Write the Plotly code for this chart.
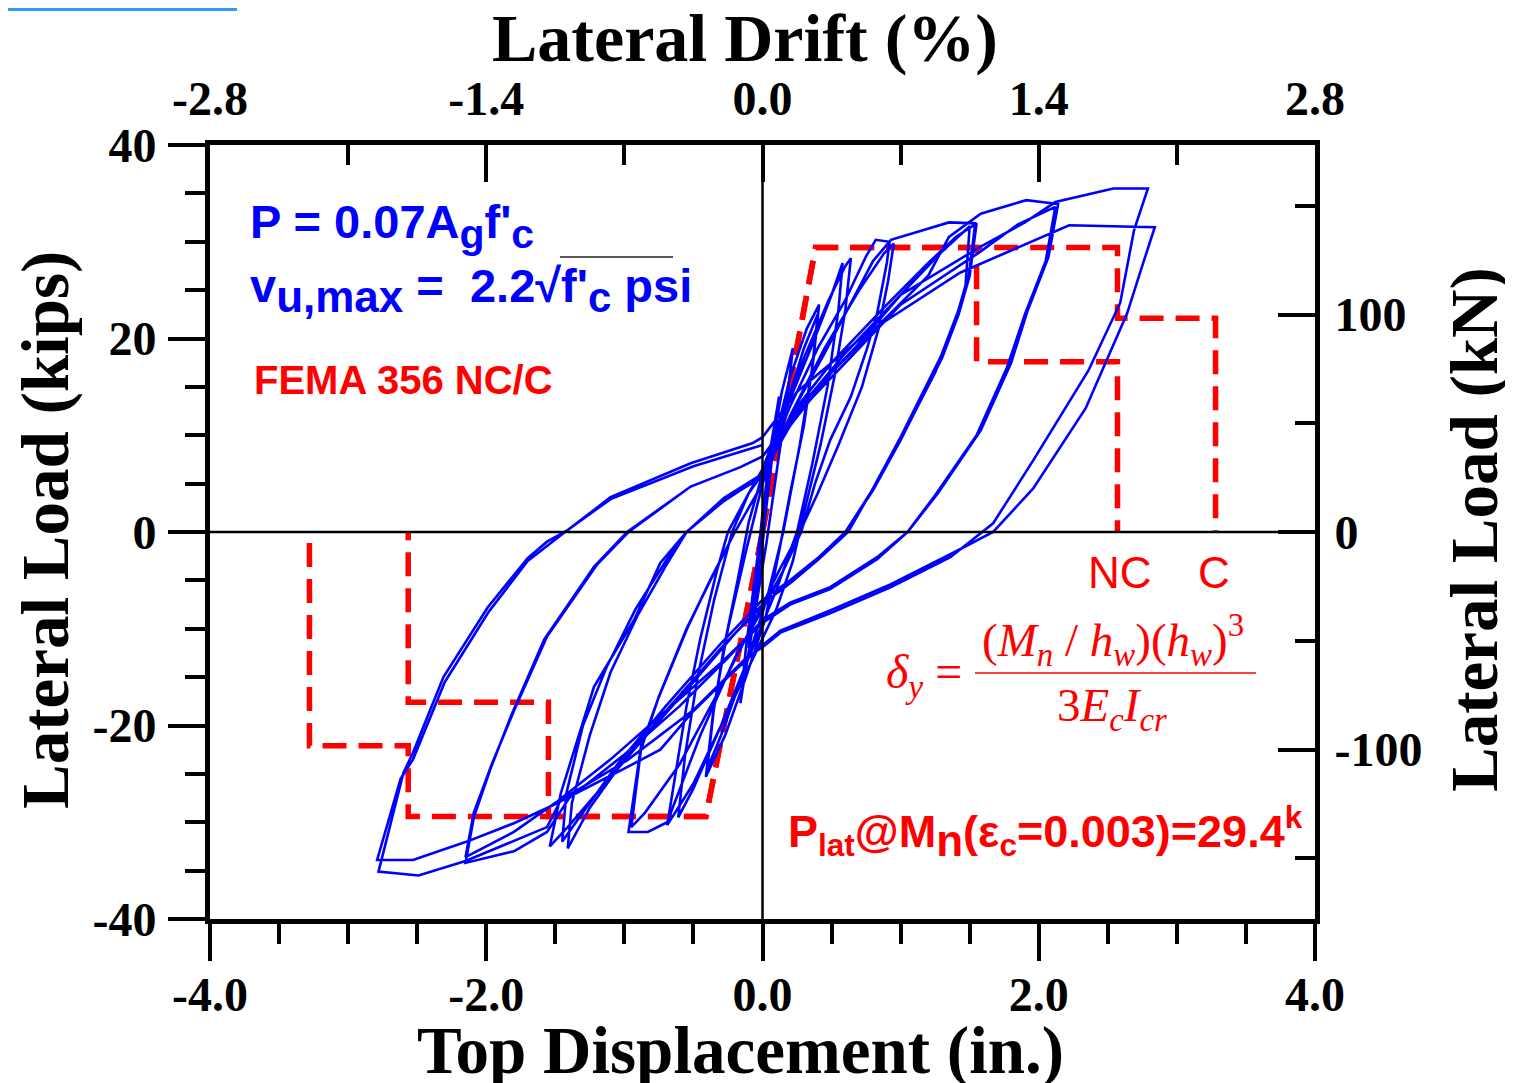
import plotly.graph_objects as go

# ---------------- data: hysteresis history (top displacement in., lateral load kips) ----------------
disp_c01 = [0.0, 0.03, 0.06, 0.045, 0.02, -0.01, -0.05, -0.035, -0.01, 0.0]
load_c01 = [0.0, 5, 9, 6, 2, -3, -8, -5, -1, 1.5]

disp_c02 = [0.0, 0.05, 0.12, 0.09, 0.04, -0.02, -0.07, -0.1, -0.07, -0.03, 0.0]
load_c02 = [1.5, 8, 14, 10, 4, -3, -9, -12, -8, -2.5, 2]

disp_c03 = [0.0, 0.06, 0.14, 0.22, 0.18, 0.1, 0.03, -0.05, -0.12, -0.16, -0.12, -0.06, 0.0]
load_c03 = [2, 8, 14.5, 19, 14, 6, -1, -8, -14, -17.7, -12, -5, 1.5]

disp_c04 = [0.0, 0.08, 0.2, 0.32, 0.41, 0.37, 0.3, 0.2, 0.12, 0.02, -0.12, -0.27, -0.41, -0.36, -0.28, -0.18, -0.1, 0.0]
load_c04 = [1.5, 9, 16, 21, 23.5, 18, 11, 4, -2, -9, -15, -21, -25.3, -19, -12, -5, 1, 6]

disp_c05 = [0.0, 0.15, 0.3, 0.4, 0.36, 0.27, 0.15, 0.03, -0.15, -0.3, -0.4, -0.35, -0.25, -0.12, 0.0]
load_c05 = [6, 12, 19, 22.5, 17, 9, 0, -7, -15, -21, -24.5, -18, -10, -2, 5]

disp_c06 = [0.0, 0.15, 0.3, 0.48, 0.6, 0.64, 0.6, 0.52, 0.42, 0.3, 0.22, 0.1, -0.1, -0.3, -0.5, -0.69,
            -0.63, -0.55, -0.45, -0.33, -0.25, -0.1, 0.0]
load_c06 = [5, 12, 18, 24, 27.5, 28.3, 23, 16, 9, 2, -3, -8, -14, -20, -26, -30.3,
            -25, -18, -11, -4, 0, 4, 6.5]

disp_c07 = [0.0, 0.15, 0.35, 0.5, 0.58, 0.55, 0.47, 0.36, 0.25, 0.1, -0.1, -0.3, -0.5, -0.61,
            -0.56, -0.47, -0.35, -0.22, -0.1, 0.0]
load_c07 = [6.5, 12, 19, 24.5, 27.8, 23, 15, 7, 0, -6, -13, -20, -26.5, -29.5,
            -23, -15, -7, 0, 4, 6]

disp_c08 = [0.0, 0.2, 0.4, 0.6, 0.75, 0.82, 0.92, 0.9, 0.83, 0.76, 0.64, 0.49, 0.38, 0.28, 0.15, 0.0,
            -0.2, -0.45, -0.69, -0.83, -0.97, -0.88, -0.76, -0.54, -0.38, -0.2, 0.0]
load_c08 = [6, 13, 19, 24, 28.5, 30.2, 30.0, 27.8, 22.6, 19.1, 14, 9.5, 5, 0, -4, -8,
            -13, -21, -30.0, -31.0, -31.0, -22.2, -17.4, -9.8, -5.0, 0, 5]

disp_c09 = [0.0, 0.2, 0.45, 0.7, 0.88, 0.95, 0.91, 0.84, 0.72, 0.55, 0.4, 0.27, 0.12, -0.05,
            -0.3, -0.6, -0.85, -0.95, -0.88, -0.75, -0.55, -0.37, -0.2, 0.0]
load_c09 = [5, 12, 19, 25, 28.8, 29.8, 26, 21, 15, 9, 4, 0, -4, -9,
            -16, -24, -29, -30.5, -22.5, -17, -10, -4.8, 0, 5]

disp_c10 = [0.0, 0.2, 0.45, 0.65, 0.8, 0.93, 1.35, 1.54, 1.49, 1.41, 1.29, 1.0, 0.8, 0.62, 0.4, 0.2, 0.04,
            -0.2, -0.5, -0.9, -1.2, -1.41, -1.54, -1.46, -1.22, -0.93, -0.74, -0.55, -0.28, 0.0]
load_c10 = [5, 12, 18.5, 24, 28, 30.2, 32.0, 31.9, 26, 22.6, 18.1, 9.8, 4.5, 0, -2.9, -5.3, -7.0,
            -10.5, -15.5, -22, -27, -30.5, -32.5, -27, -16, -9.1, -3.2, 0, 3.3, 5.7]

disp_c11 = [0.0, 0.2, 0.5, 0.9, 1.2, 1.4, 1.55, 1.5, 1.42, 1.3, 1.0, 0.8, 0.6, 0.38, 0.2, 0.0,
            -0.3, -0.7, -1.0, -1.25, -1.41, -1.38, -1.25, -1.1, -0.9, -0.7, -0.55, -0.28, 0.0]
load_c11 = [5.7, 12, 17.5, 23.5, 27.8, 30.5, 31.9, 26.5, 22.5, 18, 9.5, 4.3, 0, -3, -5.2, -7.5,
            -12, -18.5, -23.5, -28.5, -32.7, -28, -21, -14.5, -8.5, -3.5, 0, 3.2, 5.8]

disp_c12 = [0.0, 0.25, 0.6, 1.0, 1.3, 1.5, 1.47, 1.38, 1.25, 0.98, 0.78, 0.6, 0.4, 0.2, 0.0,
            -0.3, -0.7, -1.05, -1.3, -1.45, -1.42, -1.3, -1.13, -0.92, -0.7, -0.55, -0.28, 0.0]
load_c12 = [5.8, 12.5, 18.5, 24.5, 29, 31.6, 25.5, 21, 16.5, 9, 4, 0, -2.7, -5, -7,
            -11.5, -18, -24, -29, -32, -27, -20, -14, -8, -3, 0, 3.5, 6]

disp_c13 = [0.0, 0.2, 0.5, 0.85, 1.2, 1.35, 1.58, 1.91, 2.14, 2.07, 1.92, 1.8, 1.58, 1.27, 1.05, 0.83, 0.49, 0.2, 0.0,
            -0.25, -0.6, -1.0, -1.4, -1.56, -1.8, -2.15, -2.09, -1.97, -1.82, -1.58, -1.22, -0.98, -0.52, -0.16, 0.0]
load_c13 = [6, 11, 16.5, 21.5, 26.5, 30.5, 32.9, 34.3, 33.9, 28.4, 22.9, 17.5, 10.5, 4.0, 0, -2.6, -5.7, -7.3, -9.1,
            -13, -18, -23, -27.5, -31.0, -33.0, -34.2, -29.5, -24.5, -19, -11.1, -3.6, 0, 4.7, 6.7, 7.8]

disp_c14 = [0.0, 0.3, 0.7, 1.0, 1.58, 1.85, 2.12, 2.05, 1.9, 1.77, 1.55, 1.25, 1.05, 0.83, 0.49, 0.2, 0.0,
            -0.3, -0.7, -1.1, -1.5, -1.8, -2.15, -2.09, -1.96, -1.8, -1.56, -1.2, -0.97, -0.52, -0.16, 0.0]
load_c14 = [7.8, 13, 19, 23.5, 29, 31.8, 33.6, 28, 22.5, 17, 10, 3.8, 0, -2.8, -5.9, -7.5, -9.4,
            -13.5, -18.5, -23.5, -28, -31, -33.6, -29, -24, -18.5, -10.8, -3.4, 0, 4.7, 6.7, 7.8]

disp_c15 = [0.0, 0.3, 0.7, 1.0, 1.58, 1.9, 2.12, 2.54, 2.79, 2.69, 2.59, 2.36, 1.96, 1.67, 1.36, 0.93, 0.49, 0.13, 0.0,
            -0.11, -0.5, -0.98, -1.46, -1.56, -2.15, -2.49, -2.78, -2.6, -2.53, -2.31, -1.99, -1.70, -1.56, -1.41,
            -1.1, -0.52, -0.07, 0.0]
load_c15 = [7.8, 13.5, 19.5, 24.5, 29.5, 32.0, 34.1, 35.5, 35.5, 31.2, 23.7, 16.7, 7.4, 0.9, -2.6, -5.7, -8.4, -10.4, -11.9,
            -12.9, -18.4, -23.6, -27.7, -30.5, -34.0, -35.5, -35.1, -24.9, -22.8, -15.0, -7.8, -2.7, -1.0, 0.2,
            3.6, 7.1, 9.2, 9.8]

disp_c16 = [0.0, 0.25, 0.76, 1.43, 2.22, 2.84, 2.74, 2.64, 2.34, 1.96, 1.67, 1.36, 0.93, 0.49, 0.13, 0.0,
            -0.25, -0.5, -0.74, -0.98, -1.54, -1.8, -2.14, -2.53, -2.79, -2.62, -2.53, -2.3, -1.98, -1.7, -1.43,
            -1.1, -0.5, 0.0]
load_c16 = [9.8, 14.5, 20.6, 26.8, 31.7, 31.5, 27.1, 22.6, 12.8, 4.5, 0, -2.3, -5.4, -8.1, -10.2, -11.7,
            -15, -18.5, -22.5, -24.3, -28.4, -30.1, -32, -33.9, -33.9, -25.5, -23.5, -15.5, -8.2, -3, 0,
            3.4, 6.8, 9]

# ---------------- data: FEMA 356 NC / C backbone curves ----------------
fema_nc_pos_disp = [0.0, 0.384, 1.55, 1.55, 2.57, 2.57]
fema_nc_pos_load = [0.0, 29.4, 29.4, 17.6, 17.6, 0.0]
fema_c_pos_disp = [0.0, 0.384, 2.57, 2.57, 3.28, 3.28]
fema_c_pos_load = [0.0, 29.4, 29.4, 22.1, 22.1, 0.0]
fema_nc_neg_disp = [0.0, -0.41, -1.55, -1.55, -2.565, -2.565]
fema_nc_neg_load = [0.0, -29.4, -29.4, -17.6, -17.6, 0.0]
fema_c_neg_disp = [0.0, -0.41, -2.565, -2.565, -3.28, -3.28]
fema_c_neg_load = [0.0, -29.4, -29.4, -22.1, -22.1, 0.0]

# ---------------- tick labels ----------------
x_ticks = [-4, -2, 0, 2, 4]
x_ticktext = ["-4.0", "-2.0", "0.0", "2.0", "4.0"]
y_ticks = [-40, -20, 0, 20, 40]
y_ticktext = ["-40", "-20", "0", "20", "40"]
drift_ticks = [-2.8, -1.4, 0.0, 1.4, 2.8]
drift_ticktext = ["-2.8", "-1.4", "0.0", "1.4", "2.8"]
kn_ticks = [-100, 0, 100]
kn_ticktext = ["-100", "0", "100"]

KIP_TO_KN = 4.44822
DISP_RANGE = [-4, 4]
LOAD_RANGE = [-40, 40]
DRIFT_RANGE = [-2.8, 2.8]

cycles = [(disp_c01, load_c01), (disp_c02, load_c02), (disp_c03, load_c03), (disp_c04, load_c04),
          (disp_c05, load_c05), (disp_c06, load_c06), (disp_c07, load_c07), (disp_c08, load_c08),
          (disp_c09, load_c09), (disp_c10, load_c10), (disp_c11, load_c11), (disp_c12, load_c12),
          (disp_c13, load_c13), (disp_c14, load_c14), (disp_c15, load_c15), (disp_c16, load_c16)]
hist_x, hist_y = [], []
for d, l in cycles:
    hist_x += d
    hist_y += l

# ---------------- figure ----------------
OFF = 8                      # page body margin of the html page
W, H = 1513 - OFF, 1083 - OFF
L, R, T, B = 210, 1315, 145, 919   # plot area in page pixels

def px(x):
    return (x - L) / (R - L)

def py(y):
    return (B - y) / (B - T)

SERIF = "Liberation Serif, Times New Roman, serif"
SANS = "Liberation Sans, Arial, sans-serif"
RED = "#FF0000"
BLUE = "#0000FF"

fig = go.Figure()
dash = "24px,12px"
for dx, dy in [(fema_nc_pos_disp, fema_nc_pos_load), (fema_c_pos_disp, fema_c_pos_load),
               (fema_nc_neg_disp, fema_nc_neg_load), (fema_c_neg_disp, fema_c_neg_load)]:
    fig.add_trace(go.Scatter(x=dx, y=dy, mode="lines",
                             line=dict(color=RED, width=5.5, dash=dash),
                             showlegend=False, hoverinfo="skip"))

fig.add_trace(go.Scatter(x=hist_x, y=hist_y, mode="lines",
                         line=dict(color=BLUE, width=2.6), showlegend=False))

# invisible trace to tie the secondary (top / right) axes
fig.add_trace(go.Scatter(x=[None], y=[None], xaxis="x2", yaxis="y2", showlegend=False, hoverinfo="skip"))

tickfont = dict(family=SERIF, size=48, color="black", weight="bold")

def minor(dt, side):
    return dict(dtick=dt, tick0=0, ticks=side, ticklen=20, tickwidth=4, tickcolor="black", showgrid=False)

common = dict(ticklen=37, tickwidth=4, tickcolor="black", showline=True, linewidth=5, linecolor="black",
              showgrid=False, zeroline=False, tickfont=tickfont)

fig.update_layout(
    width=W, height=H,
    margin=dict(l=L - OFF, r=W - (R - OFF), t=T - OFF, b=H - (B - OFF), pad=0),
    paper_bgcolor="white", plot_bgcolor="white",
    showlegend=False,
    xaxis=dict(range=DISP_RANGE, tickvals=x_ticks, ticktext=x_ticktext, ticks="outside",
               ticklabelstandoff=-8, minor=minor(0.5, "outside"), **common),
    yaxis=dict(range=LOAD_RANGE, tickvals=y_ticks, ticktext=y_ticktext, ticks="outside",
               ticklabelstandoff=2, minor=minor(5, "outside"), **common),
    xaxis2=dict(range=DRIFT_RANGE, overlaying="x", side="top", anchor="y",
                tickvals=drift_ticks, ticktext=drift_ticktext, ticks="inside",
                ticklabelstandoff=6, minor=minor(0.7, "inside"), **common),
    yaxis2=dict(range=[LOAD_RANGE[0] * KIP_TO_KN, LOAD_RANGE[1] * KIP_TO_KN], overlaying="y", side="right",
                anchor="x", tickvals=kn_ticks, ticktext=kn_ticktext, ticks="inside",
                ticklabelstandoff=5, minor=minor(50, "inside"), **common),
)

# zero lines (drawn above the data)
fig.add_shape(type="line", xref="x", yref="paper", x0=0, x1=0, y0=0, y1=1,
              line=dict(color="black", width=2.5), layer="above")
fig.add_shape(type="line", xref="paper", yref="y", x0=0, x1=1, y0=0, y1=0,
              line=dict(color="black", width=2.5), layer="above")

# fraction bar of the delta_y formula and overline of the square root
fig.add_shape(type="line", xref="paper", yref="paper", x0=px(975), x1=px(1256), y0=py(673), y1=py(673),
              line=dict(color=RED, width=1.5))
fig.add_shape(type="line", xref="paper", yref="paper", x0=px(560), x1=px(673), y0=py(257), y1=py(257),
              line=dict(color="#222222", width=1.5))
# stray blue rule at top-left corner of the page
fig.add_shape(type="line", xref="paper", yref="paper", x0=px(OFF), x1=px(237), y0=py(OFF + 1.5), y1=py(OFF + 1.5),
              line=dict(color="#3399FF", width=3))

def ann(text, x, y, size, family=SANS, color="black", weight="normal", xanchor="center", angle=0):
    fig.add_annotation(text=text, x=px(x), y=py(y), xref="paper", yref="paper", showarrow=False,
                       xanchor=xanchor, yanchor="middle", textangle=angle,
                       font=dict(family=family, size=size, color=color, weight=weight))

# axis titles
ann("Lateral Drift (%)", 745, 38, 68, SERIF, weight="bold")
ann("Top Displacement (in.)", 740, 1050, 67, SERIF, weight="bold")
ann("Lateral Load (kips)", 45, 530, 67, SERIF, weight="bold", angle=-90)
ann("Lateral Load (kN)", 1474, 530, 67, SERIF, weight="bold", angle=-90)

# in-plot annotations
ann("P = 0.07A<sub><span style='font-size:41px'>g</span></sub>f'<sub><span style='font-size:41px'>c</span></sub>",
    248, 226, 47, SANS, BLUE, "bold", xanchor="left")
ann("v<sub><span style='font-size:44px'>u,max</span></sub> =&nbsp; 2.2√f'<sub><span style='font-size:42px'>c</span></sub> psi",
    248, 290, 47, SANS, BLUE, "bold", xanchor="left")
ann("FEMA 356 NC/C", 252, 380, 40, SANS, RED, "bold", xanchor="left")
ann("NC", 1120, 572, 44, SANS, RED)
ann("C", 1214, 572, 44, SANS, RED)
ann("<i>δ</i><sub><i>y</i></sub> =", 884, 675, 48, SERIF, RED, xanchor="left")
ann("(<i>M</i><sub><i>n</i></sub> / <i>h</i><sub><i>w</i></sub>)(<i>h</i><sub><i>w</i></sub>)<sup>3</sup>",
    1113, 640, 47, SERIF, RED)
ann("3<i>E</i><sub><i>c</i></sub><i>I</i><sub><i>cr</i></sub>", 1112, 708, 47, SERIF, RED)
ann("P<sub>lat</sub>@M<sub><span style='font-size:44px'>n</span></sub>(ε<sub>c</sub>=0.003)=29.4<sup>k</sup>",
    786, 832, 45, SANS, RED, "bold", xanchor="left")

fig.write_html("out.html")
